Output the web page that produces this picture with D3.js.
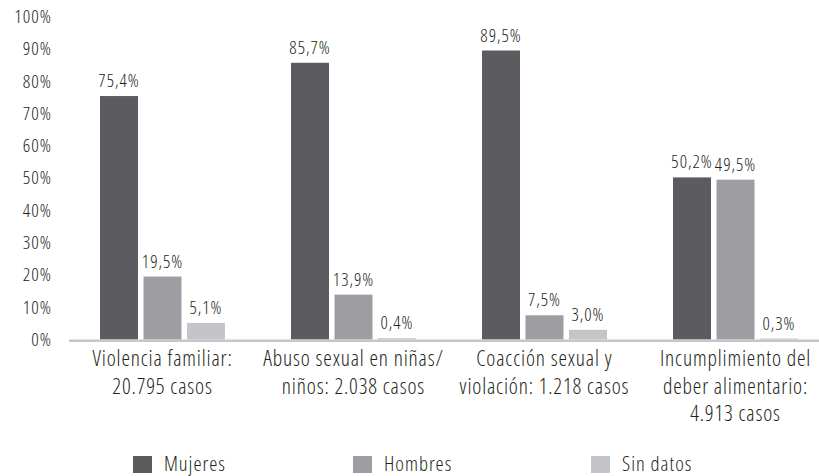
<!DOCTYPE html>
<html>
<head>
<meta charset="utf-8">
<script src="https://cdn.jsdelivr.net/npm/d3@7"></script>
<style>
  html, body { margin: 0; padding: 0; background: #fff; }
  svg { display: block; }
  text { fill: #231f20; }
</style>
</head>
<body>
<script>
const categories = [
  ["Violencia familiar:", "20.795 casos"],
  ["Abuso sexual en niñas/", "niños: 2.038 casos"],
  ["Coacción sexual y", "violación: 1.218 casos"],
  ["Incumplimiento del", "deber alimentario:", "4.913 casos"]
];
const seriesNames = ["Mujeres", "Hombres", "Sin datos"];
const mujeres = [75.4, 85.7, 89.5, 50.2];
const hombres = [19.5, 13.9, 7.5, 49.5];
const sinDatos = [5.1, 0.4, 3.0, 0.3];
const yTicks = [0, 10, 20, 30, 40, 50, 60, 70, 80, 90, 100];
const colors = ["#5c5b60", "#9e9da1", "#c4c4c9"];

const W = 819, H = 476;
const values = [mujeres, hombres, sinDatos];
const catKeys = categories.map((c, i) => i);

const svg = d3.select("body").append("svg").attr("width", W).attr("height", H);

const WEIGHT = 300;
const FAM = "Open Sans";
const STRETCH = "75%";
function measure(size, str) {
  const t = svg.append("text").attr("font-size", size).attr("font-family", FAM)
    .attr("font-weight", WEIGHT).style("font-stretch", STRETCH).text(str);
  const w = t.node().getComputedTextLength();
  t.remove();
  return w;
}
// letter-spacing so that text at given size reaches target width
function fitFont(str, size, target) {
  const w = measure(size, str);
  const ls = Math.max(-0.5, Math.min(1.0, (target - w) / str.length));
  return {size, ls};
}
const fCat = fitFont("Violencia familiar:", 21.5, 140);
const fVal = fitFont("75,4%", 18, 43);
const fTick = fitFont("100%", 18.5, 44);
const fLeg = fitFont("Hombres", 20.5, 70);

function styleText(sel, f) {
  return sel.attr("font-family", FAM).style("font-stretch", STRETCH)
    .attr("font-weight", WEIGHT).attr("font-size", f.size)
    .style("letter-spacing", f.ls + "px");
}

const x0 = d3.scaleBand().domain(catKeys).range([67, 831]).padding(0);
const x1 = d3.scaleBand().domain(seriesNames).range([0, x0.bandwidth()])
  .paddingInner(0.1264).paddingOuter(0.759);
const y = d3.scaleLinear().domain([0, 100]).range([339.5, 16.6]);

const fmt = v => d3.format(".1f")(v).replace(".", ",") + "%";

// y axis labels
const yAxis = d3.axisLeft(y).tickValues(yTicks).tickSize(0).tickPadding(0)
  .tickFormat(d => d + "%");
const gy = svg.append("g").attr("transform", "translate(52,0)").call(yAxis);
gy.select(".domain").remove();
gy.attr("font-family", null).attr("font-size", null);
styleText(gy.selectAll("text"), fTick).attr("fill", "#231f20");

// bars
const groups = svg.append("g").selectAll("g").data(catKeys).join("g")
  .attr("transform", d => `translate(${x0(d)},0)`);

groups.selectAll("rect")
  .data(ci => seriesNames.map((s, si) => ({s, si, v: values[si][ci]})))
  .join("rect")
  .attr("x", d => x1(d.s))
  .attr("width", x1.bandwidth())
  .attr("y", d => y(d.v))
  .attr("height", d => y(0) - y(d.v))
  .attr("fill", d => colors[d.si]);

styleText(groups.selectAll("text.val")
  .data(ci => seriesNames.map((s, si) => ({s, si, v: values[si][ci]})))
  .join("text")
  .attr("class", "val")
  .attr("x", d => x1(d.s) + x1.bandwidth() / 2)
  .attr("y", d => y(d.v) - 9)
  .attr("text-anchor", "middle"), fVal)
  .text(d => fmt(d.v));

// baseline
svg.append("line")
  .attr("x1", 69).attr("x2", 819)
  .attr("y1", y(0) + 1.2).attr("y2", y(0) + 1.2)
  .attr("stroke", "#c6c6ca").attr("stroke-width", 2.5);

// category labels
const xAxisG = svg.append("g");
catKeys.forEach(ci => {
  const t = styleText(xAxisG.append("text")
    .attr("text-anchor", "middle")
    .attr("x", x0(ci) + x0.bandwidth() / 2)
    .attr("y", 366), fCat);
  categories[ci].forEach((line, li) => {
    t.append("tspan")
      .attr("x", x0(ci) + x0.bandwidth() / 2)
      .attr("dy", li === 0 ? 0 : 27.5)
      .text(line);
  });
});

// legend
const legendX = [133, 353, 591];
const lg = svg.append("g").selectAll("g").data(seriesNames).join("g")
  .attr("transform", (d, i) => `translate(${legendX[i]},456)`);
lg.append("rect").attr("width", 19).attr("height", 17).attr("fill", (d, i) => colors[i]);
styleText(lg.append("text").attr("x", 31).attr("y", 15), fLeg).text(d => d);
</script>
</body>
</html>
